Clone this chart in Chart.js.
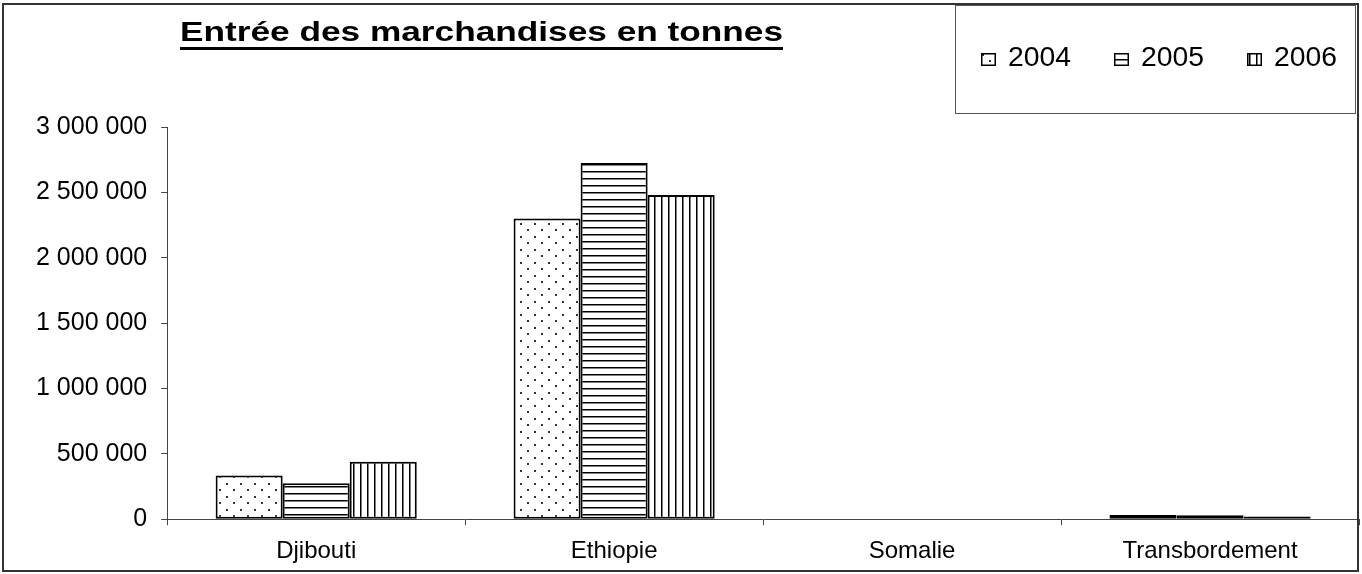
<!DOCTYPE html>
<html>
<head>
<meta charset="utf-8">
<script src="https://cdn.jsdelivr.net/npm/chart.js@4"></script>
<style>
  body { margin: 0; background: #fff; }
  #wrap { width: 1362px; height: 574px; position: relative; }
</style>
</head>
<body>
<div id="wrap"><canvas id="goodsChart"></canvas></div>
<script>
// Data (tonnes)
const categories = ['Djibouti', 'Ethiopie', 'Somalie', 'Transbordement'];
const years = ['2004', '2005', '2006'];
const values2004 = [335000, 2300000, 0, 32000];
const values2005 = [275000, 2725000, 0, 31000];
const values2006 = [440000, 2480000, 0, 20000];
const yTicks = [0, 500000, 1000000, 1500000, 2000000, 2500000, 3000000];
const chartTitle = 'Entrée des marchandises en tonnes';

const FONT = '"Liberation Sans", Arial, sans-serif';

// fill patterns like the Excel black & white ones
function makePattern(kind) {
    const c = document.createElement('canvas');
    const p = c.getContext('2d');
    if (kind === 'dots') {
        c.width = 14; c.height = 13;
        p.fillStyle = '#fff'; p.fillRect(0, 0, 14, 13);
        p.fillStyle = '#333';
        p.fillRect(2, 2, 2, 2);
        p.fillRect(9, 8, 2, 2);
    } else if (kind === 'hlines') {
        c.width = 7; c.height = 7;
        p.fillStyle = '#fff'; p.fillRect(0, 0, 7, 7);
        p.fillStyle = '#000';
        p.fillRect(0, 3, 7, 1.5);
    } else {
        c.width = 7; c.height = 7;
        p.fillStyle = '#fff'; p.fillRect(0, 0, 7, 7);
        p.fillStyle = '#000';
        p.fillRect(3, 0, 1.5, 7);
    }
    return p.createPattern(c, 'repeat');
}

const ctx = document.getElementById('goodsChart').getContext('2d');
const patterns = [makePattern('dots'), makePattern('hlines'), makePattern('vlines')];
const series = [values2004, values2005, values2006];

function spaced(v) {
    return String(v).replace(/\B(?=(\d{3})+(?!\d))/g, ' ');
}

// title, legend box and outer frame
const decorations = {
    id: 'decorations',
    afterDraw(chart) {
        const c = chart.ctx;
        c.save();

        // title, stretched a bit as in the original
        c.font = 'bold 28px ' + FONT;
        c.fillStyle = '#000';
        c.textBaseline = 'alphabetic';
        const tw = c.measureText(chartTitle).width;
        c.save();
        c.translate(180, 41);
        c.scale(603 / tw, 1);
        c.fillText(chartTitle, 0, 0);
        c.restore();
        c.fillRect(180, 47, 603, 3);

        // legend box
        c.strokeStyle = '#555';
        c.lineWidth = 1;
        c.strokeRect(955.5, 5.5, 400, 108);
        c.font = '27px ' + FONT;
        chart.data.datasets.forEach((ds, i) => {
            const x = 981 + i * 133;
            c.fillStyle = ds.backgroundColor;
            c.fillRect(x, 53, 15, 13);
            c.strokeStyle = '#000';
            c.lineWidth = 1.5;
            c.strokeRect(x + 0.75, 53.75, 13.5, 11.5);
            c.fillStyle = '#000';
            const lw = c.measureText(ds.label).width;
            c.save();
            c.translate(x + 27, 66);
            c.scale(63 / lw, 1);
            c.fillText(ds.label, 0, 0);
            c.restore();
        });

        // outer frame
        c.strokeStyle = '#333';
        c.lineWidth = 2;
        c.strokeRect(3, 4, 1355, 567);
        c.restore();
    }
};

new Chart(ctx, {
    type: 'bar',
    data: {
        labels: categories,
        datasets: years.map((y, i) => ({
            label: y,
            data: series[i],
            backgroundColor: patterns[i],
            borderColor: '#000',
            borderWidth: 2,
            borderSkipped: false,
            barPercentage: 1.0,
            categoryPercentage: 0.675
        }))
    },
    options: {
        responsive: true,
        maintainAspectRatio: false,
        animation: false,
        layout: { padding: { top: 127, left: 22, right: 3, bottom: -4 } },
        plugins: {
            legend: { display: false },
            title: { display: false },
            tooltip: { enabled: false }
        },
        scales: {
            x: {
                grid: { drawOnChartArea: false, tickLength: 6, color: '#444', offset: true },
                border: { color: '#444', width: 1 },
                ticks: { color: '#000', font: { family: FONT, size: 24 }, padding: 12 }
            },
            y: {
                min: 0,
                max: 3000000,
                afterBuildTicks(axis) {
                    axis.ticks = yTicks.map(v => ({ value: v }));
                },
                grid: { drawOnChartArea: false, tickLength: 6, color: '#444' },
                border: { color: '#444', width: 1 },
                ticks: {
                    color: '#000',
                    font: { family: FONT, size: 25 },
                    padding: 14,
                    callback: v => spaced(v)
                }
            }
        }
    },
    plugins: [decorations]
});
</script>
</body>
</html>
